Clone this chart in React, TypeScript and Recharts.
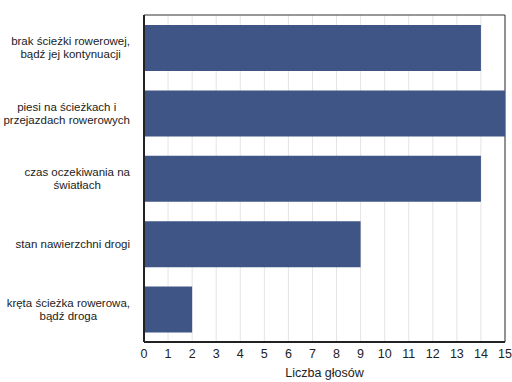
import React from "react";
import {
  BarChart, Bar, XAxis, YAxis, CartesianGrid, ReferenceArea,
} from "recharts";

const categories = [
  "brak ścieżki rowerowej,\nbądź jej kontynuacji",
  "piesi na ścieżkach i\nprzejazdach rowerowych",
  "czas oczekiwania na\nświatłach",
  "stan nawierzchni drogi",
  "kręta ścieżka rowerowa,\nbądź droga",
];
const votes = [14, 15, 14, 9, 2];
const xTicks = [0, 1, 2, 3, 4, 5, 6, 7, 8, 9, 10, 11, 12, 13, 14, 15];

const data = categories.map((c, i) => ({ name: c, value: votes[i] }));

const FONT = "Liberation Sans, Arial, Helvetica, sans-serif";
const LABEL_SIZE = 11.5;

let ctx: CanvasRenderingContext2D | null = null;
const measure = (s: string) => {
  if (!ctx) ctx = document.createElement("canvas").getContext("2d");
  if (!ctx) return s.length * 6;
  ctx.font = `${LABEL_SIZE}px "Liberation Sans", Arial, sans-serif`;
  return ctx.measureText(s).width;
};

// etykiety kategorii: blok wyrównany do prawej, linie wyśrodkowane
const CategoryTick = (props: any) => {
  const { x, y, payload } = props;
  const lines: string[] = String(payload.value).split("\n");
  const w = Math.max(...lines.map(measure));
  const cx = x - 6 - w / 2;
  const lh = 13;
  const y0 = y - ((lines.length - 1) * lh) / 2;
  return (
    <text textAnchor="middle" fontSize={LABEL_SIZE} fontFamily={FONT} fill="#222">
      {lines.map((l, i) => (
        <tspan key={i} x={cx} y={y0 + i * lh} dy="0.35em">{l}</tspan>
      ))}
    </text>
  );
};

export default function App() {
  return (
    <div style={{ position: "absolute", left: 0, top: 0, background: "#fff" }}>
      <BarChart width={512} height={382} data={data} layout="vertical"
        margin={{ top: 15, right: 7, left: 0, bottom: 0 }} barSize={46}>
        <CartesianGrid horizontal={false} stroke="#e4e4e4" />
        <XAxis type="number" domain={[0, 15]} ticks={xTicks} interval={0}
          tick={{ fill: "#222", fontSize: 12.5, fontFamily: FONT }} tickLine={false}
          axisLine={{ stroke: "#222", strokeWidth: 2 }} height={40} tickMargin={1}
          label={{ value: "Liczba głosów", position: "insideBottom", offset: 5,
            fill: "#222", fontSize: 12.5, fontFamily: FONT }} />
        <YAxis type="category" dataKey="name" width={144} tickLine={false}
          axisLine={{ stroke: "#222", strokeWidth: 2 }} tick={<CategoryTick />} />
        <ReferenceArea x1={0} x2={15} fill="none" stroke="#333" strokeWidth={1}
          ifOverflow="visible" />
        <Bar dataKey="value" fill="#3f5585" isAnimationActive={false} />
      </BarChart>
    </div>
  );
}
